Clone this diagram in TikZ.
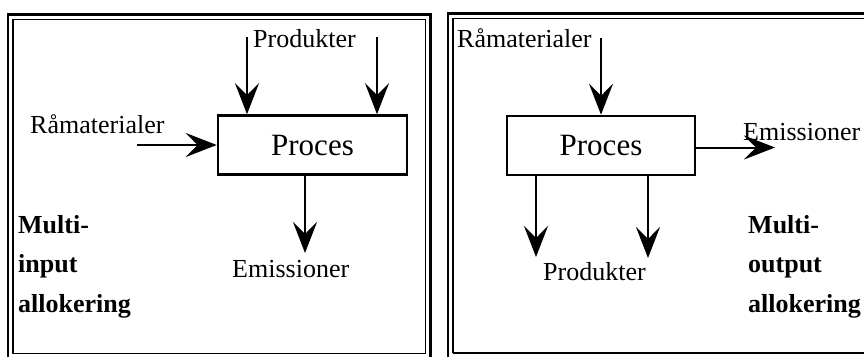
\documentclass[tikz,border=0pt]{standalone}
\usepackage{fontspec}
\setmainfont{Liberation Serif}
\usetikzlibrary{arrows.meta}
\begin{document}
\begin{tikzpicture}[x=1pt,y=-1pt,
  lbl/.style={inner sep=0pt, anchor=base west, font=\fontsize{26}{30}\selectfont},
  bld/.style={inner sep=0pt, anchor=base west, font=\fontsize{26}{30}\selectfont\bfseries},
  procbox/.style={draw, line width=2.5pt, inner sep=0pt, minimum height=59pt,
                  font=\fontsize{31}{36}\selectfont},
  flow/.style={line width=2pt, -{Stealth[length=31pt,width=24pt,inset=12pt]}},
  outerframe/.style={line width=2.5pt},
  innerframe/.style={line width=1.5pt}]
\clip (0,0) rectangle (864,356);

% ---------- left panel: multi-input ----------
\draw[outerframe] (8,370) -- (8,14.5) -- (430.5,14.5) -- (430.5,370);
\draw[innerframe] (13,19.5) rectangle (425.5,353.5);

\node[procbox, minimum width=189pt] (boxL) at (312.5,145) {Proces};

\node[lbl] (prodL) at (253,47) {Produkter};
\node[lbl] (raaL) at (30,133) {Råmaterialer};
\node[lbl] (emiL) at (232,277) {Emissioner};

\node[bld] (mL1) at (18,233) {Multi-};
\node[bld] (mL2) at (18,272) {input};
\node[bld] (mL3) at (18,312) {allokering};

\coordinate (pL1) at (247,37);
\coordinate (pL2) at (377,37);
\coordinate (rL) at (137,145);
\coordinate (eL) at (305,253);

\draw[flow] (pL1) -- (pL1 |- boxL.north);
\draw[flow] (pL2) -- (pL2 |- boxL.north);
\draw[flow] (rL) -- (boxL.west);
\draw[flow] (eL |- boxL.south) -- (eL);

% ---------- right panel: multi-output ----------
\draw[outerframe] (448,370) -- (448,13.5) -- (880,13.5);
\draw[innerframe] (453,353) -- (453,18.5) -- (880,18.5);
\draw[innerframe] (453,353) -- (880,353);

\node[procbox, minimum width=188pt] (boxR) at (601,145.5) {Proces};

\node[lbl] (raaR) at (457,47) {Råmaterialer};
\node[lbl] (emiR) at (743,140) {Emissioner};
\node[lbl] (prodR) at (543,280) {Produkter};

\node[bld] (mR1) at (748,233) {Multi-};
\node[bld] (mR2) at (748,272) {output};
\node[bld] (mR3) at (748,312) {allokering};

\coordinate (rR) at (601,38);
\coordinate (eR) at (775,147.5);
\coordinate (pR1) at (536,257);
\coordinate (pR2) at (648,258);

\draw[flow] (rR) -- (boxR.north);
\draw[flow] (boxR.east |- eR) -- (eR);
\draw[flow] (pR1 |- boxR.south) -- (pR1);
\draw[flow] (pR2 |- boxR.south) -- (pR2);
\end{tikzpicture}
\end{document}
